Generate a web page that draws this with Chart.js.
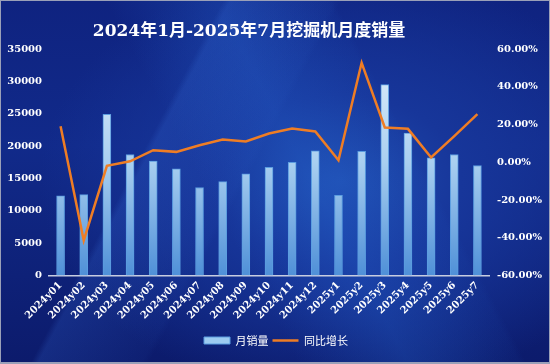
<!DOCTYPE html>
<html>
<head>
<meta charset="utf-8">
<script src="https://cdn.jsdelivr.net/npm/chart.js@4"></script>
<style>
  html, body { margin: 0; padding: 0; background: #0b1660; }
  #wrap {
    position: relative; width: 550px; height: 364px; box-sizing: border-box;
    border: 1px solid #9aa0b8; border-bottom-width: 2px; overflow: hidden;
    background:
      linear-gradient(118deg, rgba(255,255,255,0) 0%, rgba(255,255,255,0) 30%, rgba(60,120,230,0.18) 31%, rgba(60,120,230,0.05) 45%, rgba(255,255,255,0) 46%),
      linear-gradient(62deg, rgba(0,0,0,0) 40%, rgba(40,110,220,0.25) 55%, rgba(40,110,220,0.05) 70%, rgba(0,0,0,0) 71%),
      radial-gradient(ellipse 55% 60% at 62% 50%, #1f4db0 0%, #17369a 40%, rgba(18,40,130,0) 100%),
      linear-gradient(180deg, #0f2380 0%, #112a8a 40%, #0c1b6c 100%);
  }
  #title {
    position: absolute; left: 0; top: 15px; width: 496px; text-align: center;
    color: #ffffff; font: bold 17px "DejaVu Serif", "Noto Sans CJK SC", serif;
  }
  canvas { position: absolute; left: 0; top: 0; }
</style>
</head>
<body>
<div id="wrap">
  <canvas id="c" width="550" height="364"></canvas>
  <div id="title">2024年1月-2025年7月挖掘机月度销量</div>
</div>
<script>
const categories = ["2024y01","2024y02","2024y03","2024y04","2024y05","2024y06","2024y07","2024y08","2024y09","2024y10","2024y11","2024y12","2025y1","2025y2","2025y3","2025y4","2025y5","2025y6","2025y7"];
const monthlySales = [12300, 12500, 24900, 18700, 17700, 16500, 13600, 14500, 15700, 16700, 17500, 19250, 12400, 19200, 29500, 22000, 18200, 18700, 17000];
const yoyGrowth = [19.1, -41.4, -1.9, 0.5, 6.4, 5.5, 9.0, 12.0, 11.0, 15.2, 17.9, 16.3, 1.1, 52.7, 18.4, 17.7, 2.5, 13.8, 25.5];
const leftTicks = [0, 5000, 10000, 15000, 20000, 25000, 30000, 35000];
const rightTicks = [-60, -40, -20, 0, 20, 40, 60];

const tickFont = { family: "'DejaVu Serif', serif", size: 10, weight: 'bold' };

function barGradient(ctx) {
  const chart = ctx.chart;
  const area = chart.chartArea;
  if (!area) return '#8ec3ee';
  const g = chart.ctx.createLinearGradient(0, area.top, 0, area.bottom);
  g.addColorStop(0, '#e3f0fb');
  g.addColorStop(0.5, '#a9cff0');
  g.addColorStop(1, '#4f90d8');
  return g;
}

new Chart(document.getElementById('c'), {
  data: {
    labels: categories,
    datasets: [
      {
        type: 'line',
        label: '同比增长',
        data: yoyGrowth,
        yAxisID: 'y1',
        borderColor: '#ef7d24',
        backgroundColor: '#ef7d24',
        borderWidth: 2.5,
        pointRadius: 0,
        tension: 0,
        order: 0
      },
      {
        type: 'bar',
        label: '月销量',
        data: monthlySales,
        yAxisID: 'y',
        backgroundColor: barGradient,
        borderColor: '#5b9de0',
        borderWidth: 1,
        barThickness: 8,
        order: 1
      }
    ]
  },
  options: {
    responsive: false,
    animation: false,
    layout: { padding: { top: 48, left: 0, right: 0, bottom: 9 } },
    plugins: {
      title: { display: false },
      tooltip: { enabled: false },
      legend: {
        position: 'bottom',
        labels: {
          color: '#ffffff',
          font: { family: "'Noto Sans CJK SC', sans-serif", size: 11 },
          usePointStyle: true,
          boxHeight: 7,
          pointStyleWidth: 26,
          padding: 4,
          generateLabels(chart) {
            return [
              { text: '月销量', datasetIndex: 1, fillStyle: '#9ccbf1', strokeStyle: '#5b9de0', lineWidth: 1, pointStyle: 'rect', fontColor: '#ffffff', hidden: false },
              { text: '同比增长', datasetIndex: 0, fillStyle: '#ef7d24', strokeStyle: '#ef7d24', lineWidth: 2.5, pointStyle: 'line', fontColor: '#ffffff', hidden: false }
            ];
          }
        }
      }
    },
    scales: {
      x: {
        grid: { display: false, drawTicks: false },
        border: { display: true, color: '#c8cde0', width: 1.5 },
        ticks: { color: '#ffffff', font: tickFont, minRotation: 45, maxRotation: 45, padding: 4, autoSkip: false },
        afterFit(s) { s.height = 55.5; }
      },
      y: {
        position: 'left',
        min: 0, max: 35000,
        afterBuildTicks(s) { s.ticks = leftTicks.map(v => ({ value: v })); },
        grid: { display: false, drawTicks: false },
        border: { display: false },
        ticks: { color: '#ffffff', font: tickFont, padding: 7, callback: v => String(v) },
        afterFit(s) { s.width = 48; }
      },
      y1: {
        position: 'right',
        min: -60, max: 60,
        afterBuildTicks(s) { s.ticks = rightTicks.map(v => ({ value: v })); },
        grid: { display: false, drawTicks: false },
        border: { display: false },
        ticks: { color: '#ffffff', font: tickFont, padding: 8, callback: v => v.toFixed(2) + '%' },
        afterFit(s) { s.width = 62; }
      }
    }
  }
});
</script>
</body>
</html>
